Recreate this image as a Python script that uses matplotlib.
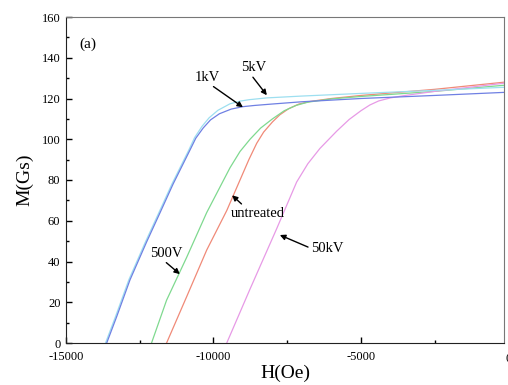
import matplotlib
matplotlib.use("Agg")
import matplotlib.pyplot as plt
from matplotlib.ticker import MultipleLocator
import matplotlib.transforms as mtransforms

plt.rcParams['font.family'] = ['Liberation Serif', 'DejaVu Serif']

# readings, H in Oe, M in Gs
h_1kv = [-13620, -13280, -12830, -12270, -11810, -11370, -10800, -10600, -10350, -10100, -9800, -9400, -9000, -8600, -8000, -7000, -5000, -2500, -150]
m_1kv = [0, 13, 31, 49.5, 64, 78, 94.6, 100.5, 105.5, 109.5, 112.5, 114.8, 116, 116.6, 117.3, 118.4, 120, 121.5, 123]

h_5kv = [-13660, -13320, -12870, -12310, -11850, -11410, -10840, -10640, -10390, -10150, -9850, -9440, -9100, -8800, -8190, -7000, -5000, -2500, -150]
m_5kv = [0, 13, 31, 49.5, 64, 78, 94.6, 100.8, 106.3, 110.5, 114.2, 117.4, 118.7, 119.4, 120.3, 121.2, 122.5, 124, 125.5]

h_500v = [-12100, -11590, -10910, -10230, -9440, -9100, -8760, -8400, -8000, -7600, -7200, -6800, -6000, -5000, -2500, -150]
m_500v = [0, 21, 42, 64, 86, 94, 100, 105.5, 110, 114, 116.6, 118.2, 119.8, 121, 123.5, 126.5]

h_untr = [-11590, -10910, -10230, -9550, -9100, -8800, -8535, -8300, -8000, -7750, -7450, -7100, -6700, -6000, -5000, -2500, -150]
m_untr = [0, 22.7, 45.6, 65, 80, 90, 98, 103.5, 108.5, 112, 115, 117.3, 118.6, 120, 121.5, 124.5, 128]

h_50kv = [-9550, -8760, -7860, -7180, -6800, -6390, -5820, -5400, -5000, -4700, -4400, -4000, -3500, -2500, -150]
m_50kv = [0, 26.5, 56, 79, 88, 95.5, 104, 109.7, 114, 116.8, 118.8, 120.3, 121.5, 123.5, 127.5]

fig = plt.figure(figsize=(5.08, 3.85), dpi=100)
ax = fig.add_axes([66/508, 1-343/385, (504-66)/508, (343-17)/385])

ax.plot(h_untr, m_untr, color='#f08a78', lw=0.9)
ax.plot(h_500v, m_500v, color='#7fd98f', lw=0.9)
ax.plot(h_50kv, m_50kv, color='#e79ae6', lw=0.9)
ax.plot(h_5kv, m_5kv, color='#9ddff0', lw=0.9)
ax.plot(h_1kv, m_1kv, color='#6f80e3', lw=0.9)

ax.set_xlim(-15000, -150)
ax.set_ylim(0, 160)
ax.xaxis.set_major_locator(MultipleLocator(5000))
ax.xaxis.set_minor_locator(MultipleLocator(2500))
ax.yaxis.set_major_locator(MultipleLocator(20))
ax.yaxis.set_minor_locator(MultipleLocator(10))
ax.tick_params(which='both', direction='in', labelsize=9, top=False, right=False)
ax.tick_params(which='major', length=4, width=1, pad=4)
ax.tick_params(which='minor', length=2, width=1)
ax.tick_params(axis='x', which='major', pad=6)
ax.set_xticks([-15000, -10000, -5000])
ax.set_xticklabels(['-15000', '-10000', '-5000'])

# "0" label sits at the cut right edge
trans = mtransforms.blended_transform_factory(ax.transData, ax.transAxes)
ax.text(0, -0.03, '0', transform=trans, ha='center', va='top', fontsize=9, clip_on=False)

for s in ['top', 'right']:
    ax.spines[s].set_color('#777777')
for s in ['left', 'bottom']:
    ax.spines[s].set_color('#222222')

ax.set_xlabel('H(Oe)', fontsize=14, labelpad=1)
ax.set_ylabel('M(Gs)', fontsize=14, labelpad=6)

ax.text(-14250, 146.5, '(a)', fontsize=11, ha='center', va='center')

arr = dict(arrowstyle='-|>', color='black', lw=1.0, mutation_scale=8, shrinkA=0, shrinkB=0)
ax.annotate('1kV', xy=(-9000, 115.7), xytext=(-10220, 130.4), fontsize=10.5,
            ha='center', va='center', arrowprops=dict(arr, relpos=(0.6, 0)))
ax.annotate('5kV', xy=(-8190, 121.6), xytext=(-8650, 135), fontsize=10.5,
            ha='center', va='center', arrowprops=dict(arr, relpos=(0.4, 0)))
ax.annotate('500V', xy=(-11140, 33.8), xytext=(-11600, 44), fontsize=10.5,
            ha='center', va='center', arrowprops=dict(arr, relpos=(0.4, 0)))
ax.annotate('untreated', xy=(-9370, 72.5), xytext=(-8490, 63.7), fontsize=10.5,
            ha='center', va='center', arrowprops=dict(arr, relpos=(0.25, 1)))
ax.annotate('50kV', xy=(-7750, 53), xytext=(-6150, 46.5), fontsize=10.5,
            ha='center', va='center', arrowprops=dict(arr, relpos=(0, 0.5)))

fig.savefig('out.png', dpi=100)
